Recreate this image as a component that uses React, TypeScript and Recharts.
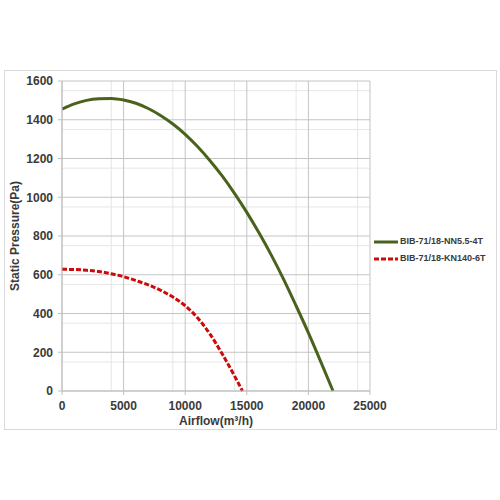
import React from 'react';
import { LineChart, Line, XAxis, YAxis, CartesianGrid, Label } from 'recharts';

const greenName = 'BIB-71/18-NN5.5-4T';
const redName = 'BIB-71/18-KN140-6T';

const greenFlow = [0, 1000, 2000, 3000, 4000, 5000, 6000, 7000, 8000, 9000, 10000, 11000, 12000, 13000, 14000, 15000, 16000, 17000, 18000, 19000, 20000, 21000, 22000];
const greenPressure = [1455, 1482, 1500, 1508, 1510, 1502, 1485, 1458, 1422, 1378, 1325, 1262, 1190, 1110, 1020, 922, 815, 700, 575, 440, 300, 152, 0];

const redFlow = [0, 1000, 2000, 3000, 4000, 5000, 6000, 7000, 8000, 9000, 10000, 11000, 12000, 13000, 14000, 14650];
const redPressure = [628, 627, 623, 617, 605, 590, 570, 548, 520, 485, 440, 378, 295, 192, 78, 0];

const xTicks = [0, 5000, 10000, 15000, 20000, 25000];
const yTicks = [0, 200, 400, 600, 800, 1000, 1200, 1400, 1600];
const xMinor = [1000, 2000, 3000, 4000, 6000, 7000, 8000, 9000, 11000, 12000, 13000, 14000, 16000, 17000, 18000, 19000, 21000, 22000, 23000, 24000];
const yMinor = [50, 100, 150, 250, 300, 350, 450, 500, 550, 650, 700, 750, 850, 900, 950, 1050, 1100, 1150, 1250, 1300, 1350, 1450, 1500, 1550];

const greenData = greenFlow.map((q, i) => ({ q, p: greenPressure[i] }));
const redData = redFlow.map((q, i) => ({ q, p: redPressure[i] }));

const GREEN = '#4a631c';
const RED = '#cc0a0a';
const TEXT = '#3a3a3a';
const FONT = '"Liberation Sans", Arial, sans-serif';

const legendItems = [
  { name: greenName, color: GREEN, dash: undefined as string | undefined },
  { name: redName, color: RED, dash: '5 2' },
];

export default function App() {
  return (
    <div style={{ position: 'absolute', left: 0, top: 0, width: 500, height: 500, background: '#fff' }}>
      <div
        style={{
          position: 'absolute',
          left: 4,
          top: 70,
          width: 491,
          height: 358,
          border: '1px solid #d9d9d9',
        }}
      />
      <div style={{ position: 'absolute', left: 0, top: 0 }}>
        <LineChart
          width={500}
          height={500}
          margin={{ top: 81, right: 130, bottom: 79, left: 5 }}
          style={{ fontFamily: FONT }}
        >
          <CartesianGrid stroke="#e6e6e6" strokeWidth={1} verticalValues={xMinor} horizontalValues={yMinor} />
          <CartesianGrid stroke="#c4c4c4" strokeWidth={1} verticalValues={xTicks} horizontalValues={yTicks} />
          <XAxis
            type="number"
            dataKey="q"
            domain={[0, 25000]}
            ticks={xTicks}
            allowDataOverflow
            height={30}
            stroke="#bfbfbf"
            tickSize={4}
            tickMargin={6}
            tick={{ fill: TEXT, fontSize: 12, fontWeight: 'bold' }}
          >
            <Label
              value="Airflow(m³/h)"
              position="bottom"
              offset={-5}
              style={{ fill: TEXT, fontSize: 12, fontWeight: 'bold' }}
            />
          </XAxis>
          <YAxis
            type="number"
            dataKey="p"
            domain={[0, 1600]}
            ticks={yTicks}
            width={57}
            stroke="#bfbfbf"
            tickSize={4}
            tickMargin={5}
            tick={{ fill: TEXT, fontSize: 12, fontWeight: 'bold' }}
          >
            <Label
              value="Static Pressure(Pa)"
              angle={-90}
              position="insideLeft"
              offset={10}
              style={{ fill: TEXT, fontSize: 12, fontWeight: 'bold', textAnchor: 'middle' }}
            />
          </YAxis>
          <Line
            data={greenData}
            dataKey="p"
            name={greenName}
            type="monotone"
            stroke={GREEN}
            strokeWidth={3}
            dot={false}
            isAnimationActive={false}
          />
          <Line
            data={redData}
            dataKey="p"
            name={redName}
            type="monotone"
            stroke={RED}
            strokeWidth={3}
            strokeDasharray="5 2"
            dot={false}
            isAnimationActive={false}
          />
        </LineChart>
      </div>
      <div
        style={{
          position: 'absolute',
          left: 374,
          top: 233,
          fontFamily: FONT,
          fontSize: 9,
          fontWeight: 'bold',
          color: TEXT,
          lineHeight: '17px',
        }}
      >
        {legendItems.map((e) => (
          <div key={e.name} style={{ display: 'flex', alignItems: 'center', height: 17 }}>
            <svg width={24} height={6} style={{ marginRight: 2 }}>
              <line x1={0} y1={3} x2={24} y2={3} stroke={e.color} strokeWidth={3} strokeDasharray={e.dash} />
            </svg>
            <span>{e.name}</span>
          </div>
        ))}
      </div>
    </div>
  );
}
